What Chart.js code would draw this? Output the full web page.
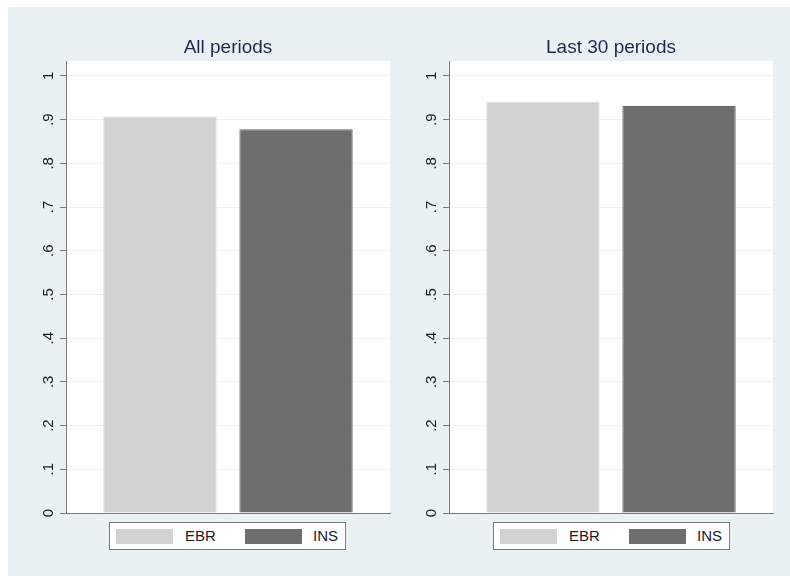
<!DOCTYPE html>
<html>
<head>
<meta charset="utf-8">
<script src="https://cdn.jsdelivr.net/npm/chart.js@4.4.1/dist/chart.umd.min.js"></script>
<style>
  html, body { margin: 0; padding: 0; background: #ffffff; }
  body { width: 790px; height: 576px; position: relative; overflow: hidden; font-family: "Liberation Sans", Arial, sans-serif; }
  #bg { position: absolute; left: 8px; top: 7px; width: 782px; height: 569px; background: #e9f1f4; }
  .wrap { position: absolute; top: 0; width: 395px; height: 520px; }
  .legend { position: absolute; top: 522px; height: 26px; background: #fff; border: 1px solid #7c7c7c; box-sizing: content-box; }
  .legend .sw { position: absolute; top: 6px; width: 57px; height: 15px; }
  .legend .tx { position: absolute; top: 4px; font-size: 15px; line-height: 18px; color: #1a1a2a; }
</style>
</head>
<body>
<div id="bg"></div>
<div class="wrap" style="left:0px"><canvas id="c1" width="395" height="520"></canvas></div>
<div class="wrap" style="left:395px"><canvas id="c2" width="395" height="520"></canvas></div>
<div class="legend" id="lg1" style="left:109px; width:235px;"></div>
<div class="legend" id="lg2" style="left:493px; width:235px;"></div>
<script>
// ---- data ----
const panelTitles = ["All periods", "Last 30 periods"];
const seriesNames = ["EBR", "INS"];
const allPeriods = [0.907, 0.878];
const last30Periods = [0.941, 0.931];
const yTicks = [0, 0.1, 0.2, 0.3, 0.4, 0.5, 0.6, 0.7, 0.8, 0.9, 1];
const yTickLabels = ["0", ".1", ".2", ".3", ".4", ".5", ".6", ".7", ".8", ".9", "1"];
const seriesColors = ["#d2d2d2", "#6e6e6e"];
const seriesBorders = ["#dadada", "#666666"];

const whiteArea = {
  id: 'whiteArea',
  beforeDraw(chart) {
    const a = chart.chartArea, ctx = chart.ctx;
    ctx.save();
    ctx.fillStyle = '#ffffff';
    ctx.fillRect(a.left, a.top, a.right - a.left, a.bottom - a.top);
    ctx.restore();
  }
};

function makeChart(id, title, values, padLeft, padRight) {
  return new Chart(document.getElementById(id), {
    type: 'bar',
    data: {
      labels: [''],
      datasets: seriesNames.map((n, i) => ({
        label: n,
        data: [values[i]],
        backgroundColor: seriesColors[i],
        borderColor: seriesBorders[i],
        borderWidth: 1,
        categoryPercentage: 0.84,
        barPercentage: 0.833
      }))
    },
    options: {
      responsive: false,
      animation: false,
      devicePixelRatio: 1,
      layout: { padding: { top: 38, left: padLeft, right: padRight, bottom: 7 } },
      plugins: {
        legend: { display: false },
        tooltip: { enabled: false },
        title: {
          display: true,
          text: title,
          fullSize: false,
          color: '#1c2b4c',
          font: { family: '"Liberation Sans", Arial, sans-serif', size: 19, weight: 'normal', lineHeight: 1 },
          padding: { top: 0, bottom: 4 }
        }
      },
      scales: {
        x: {
          type: 'category',
          grid: { display: false },
          ticks: { display: false },
          border: { display: true, color: '#7a7a7a', width: 1 },
          afterFit(s) { s.height = 0; }
        },
        y: {
          min: 0,
          max: 1.034,
          afterBuildTicks(s) { s.ticks = yTicks.map(v => ({ value: v })); },
          afterFit(s) { s.width = 46; s.paddingTop = 0; s.paddingBottom = 0; },
          ticks: {
            minRotation: 90,
            maxRotation: 90,
            crossAlign: 'center',
            padding: 5,
            color: '#1a1a2a',
            font: { family: '"Liberation Sans", Arial, sans-serif', size: 15 },
            callback: (v, i) => yTickLabels[i]
          },
          grid: {
            color: '#eaf2f4',
            lineWidth: 1,
            drawTicks: true,
            tickLength: 6,
            tickColor: '#7a7a7a'
          },
          border: { display: true, color: '#7a7a7a', width: 1 }
        }
      }
    },
    plugins: [whiteArea]
  });
}

makeChart('c1', panelTitles[0], allPeriods, 20, 5);
makeChart('c2', panelTitles[1], last30Periods, 8, 17);

function makeLegend(id) {
  const el = document.getElementById(id);
  const swX = [6, 135];
  const txX = [75, 203];
  seriesNames.forEach((n, i) => {
    const sw = document.createElement('div');
    sw.className = 'sw';
    sw.style.left = swX[i] + 'px';
    sw.style.background = seriesColors[i];
    el.appendChild(sw);
    const tx = document.createElement('div');
    tx.className = 'tx';
    tx.style.left = txX[i] + 'px';
    tx.textContent = n;
    el.appendChild(tx);
  });
}
makeLegend('lg1');
makeLegend('lg2');
</script>
</body>
</html>
